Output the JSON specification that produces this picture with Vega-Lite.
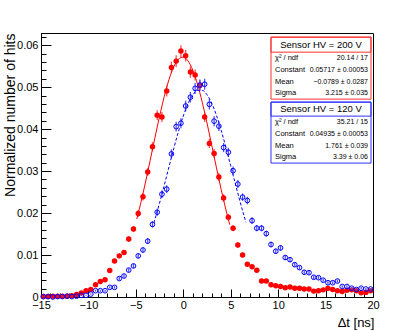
{
  "$schema": "https://vega.github.io/schema/vega-lite/v6.json",
  "width": 332,
  "height": 264,
  "autosize": {"type": "none"},
  "padding": {"left": 41, "top": 33, "right": 42, "bottom": 33},
  "background": "white",
  "config": {
    "view": {"stroke": "#000", "strokeWidth": 1},
    "font": "Liberation Sans",
    "axis": {"labelFont": "Liberation Sans", "titleFont": "Liberation Sans", "labelColor": "#000", "titleColor": "#000", "tickColor": "#000", "domainColor": "#000", "grid": false, "titleFontWeight": "normal"}
  },
  "datasets": {
    "red": [
      {"x":-14.75,"y":0.0001,"e":0.00006},{"x":-14.25,"y":0.0001,"e":0.00006},{"x":-13.75,"y":0.0002,"e":0.00008},{"x":-13.25,"y":0.0002,"e":0.00008},
      {"x":-12.75,"y":0.0002,"e":0.00008},{"x":-12.25,"y":0.0002,"e":0.00008},{"x":-11.75,"y":0.0003,"e":0.0001},{"x":-11.25,"y":0.0006,"e":0.00014},
      {"x":-10.75,"y":0.00095,"e":0.00018},{"x":-10.25,"y":0.0015,"e":0.00022},{"x":-9.75,"y":0.0018,"e":0.00025},{"x":-9.25,"y":0.0029,"e":0.00031},
      {"x":-8.75,"y":0.0037,"e":0.00035},{"x":-8.25,"y":0.0041,"e":0.00037},{"x":-7.75,"y":0.0063,"e":0.00046},{"x":-7.25,"y":0.0086,"e":0.00054},
      {"x":-6.75,"y":0.0098,"e":0.00057},{"x":-6.25,"y":0.0106,"e":0.0006},{"x":-5.75,"y":0.0138,"e":0.00068},{"x":-5.25,"y":0.0162,"e":0.00074},
      {"x":-4.75,"y":0.0199,"e":0.00082},{"x":-4.25,"y":0.0239,"e":0.0009},{"x":-3.75,"y":0.0298,"e":0.001},{"x":-3.25,"y":0.0358,"e":0.0011},
      {"x":-2.75,"y":0.0433,"e":0.0012},{"x":-2.25,"y":0.0429,"e":0.0012},{"x":-1.75,"y":0.0491,"e":0.0013},{"x":-1.25,"y":0.0547,"e":0.00136},
      {"x":-0.75,"y":0.0562,"e":0.00138},{"x":-0.25,"y":0.0586,"e":0.0014},{"x":0.25,"y":0.0575,"e":0.0014},{"x":0.75,"y":0.0536,"e":0.00134},
      {"x":1.25,"y":0.0529,"e":0.00133},{"x":1.75,"y":0.0504,"e":0.0013},{"x":2.25,"y":0.0429,"e":0.0012},{"x":2.75,"y":0.0366,"e":0.0011},
      {"x":3.25,"y":0.0342,"e":0.00107},{"x":3.75,"y":0.0286,"e":0.00098},{"x":4.25,"y":0.0236,"e":0.00089},{"x":4.75,"y":0.019,"e":0.0008},
      {"x":5.25,"y":0.0164,"e":0.00074},{"x":5.75,"y":0.0124,"e":0.00065},{"x":6.25,"y":0.01,"e":0.00058},{"x":6.75,"y":0.0078,"e":0.00051},
      {"x":7.25,"y":0.0072,"e":0.00049},{"x":7.75,"y":0.0064,"e":0.00046},{"x":8.25,"y":0.0038,"e":0.00036},{"x":8.75,"y":0.0038,"e":0.00036},
      {"x":9.25,"y":0.0029,"e":0.00031},{"x":9.75,"y":0.0027,"e":0.0003},{"x":10.25,"y":0.0025,"e":0.00029},{"x":10.75,"y":0.0022,"e":0.00027},
      {"x":11.25,"y":0.0024,"e":0.00028},{"x":11.75,"y":0.0021,"e":0.00027},{"x":12.25,"y":0.0021,"e":0.00027},{"x":12.75,"y":0.0019,"e":0.00025},
      {"x":13.25,"y":0.0019,"e":0.00025},{"x":13.75,"y":0.0014,"e":0.00022},{"x":14.25,"y":0.0015,"e":0.00022},{"x":14.75,"y":0.0017,"e":0.00024},
      {"x":15.25,"y":0.0021,"e":0.00027},{"x":15.75,"y":0.0018,"e":0.00025},{"x":16.25,"y":0.0015,"e":0.00022},{"x":16.75,"y":0.0013,"e":0.00021},
      {"x":17.25,"y":0.0016,"e":0.00023},{"x":17.75,"y":0.0017,"e":0.00024},{"x":18.25,"y":0.0015,"e":0.00022},{"x":18.75,"y":0.001,"e":0.00018},
      {"x":19.25,"y":0.0011,"e":0.00019},{"x":19.75,"y":0.0015,"e":0.00022}
    ],
    "blue": [
      {"x":-14.75,"y":0.0001,"e":0.00006},{"x":-14.25,"y":0.0001,"e":0.00006},{"x":-13.75,"y":0.0,"e":0.0},{"x":-13.25,"y":0.0001,"e":0.00006},
      {"x":-12.75,"y":0.0001,"e":0.00006},{"x":-12.25,"y":0.0002,"e":0.00008},{"x":-11.75,"y":0.0001,"e":0.00006},{"x":-11.25,"y":0.0002,"e":0.00008},
      {"x":-10.75,"y":0.0004,"e":0.00012},{"x":-10.25,"y":0.0004,"e":0.00012},{"x":-9.75,"y":0.0007,"e":0.00015},{"x":-9.25,"y":0.0015,"e":0.00022},
      {"x":-8.75,"y":0.0015,"e":0.00022},{"x":-8.25,"y":0.0015,"e":0.00022},{"x":-7.75,"y":0.0023,"e":0.00028},{"x":-7.25,"y":0.0023,"e":0.00028},
      {"x":-6.75,"y":0.0044,"e":0.00038},{"x":-6.25,"y":0.005,"e":0.00041},{"x":-5.75,"y":0.0064,"e":0.00046},{"x":-5.25,"y":0.0074,"e":0.0005},
      {"x":-4.75,"y":0.0098,"e":0.00057},{"x":-4.25,"y":0.0112,"e":0.00061},{"x":-3.75,"y":0.0133,"e":0.00067},{"x":-3.25,"y":0.0173,"e":0.00076},
      {"x":-2.75,"y":0.0202,"e":0.00082},{"x":-2.25,"y":0.0245,"e":0.00091},{"x":-1.75,"y":0.0257,"e":0.00093},{"x":-1.25,"y":0.0341,"e":0.00107},
      {"x":-0.75,"y":0.0406,"e":0.00117},{"x":-0.25,"y":0.0414,"e":0.00118},{"x":0.25,"y":0.0455,"e":0.00124},{"x":0.75,"y":0.0476,"e":0.00127},
      {"x":1.25,"y":0.0497,"e":0.00129},{"x":1.75,"y":0.0505,"e":0.0013},{"x":2.25,"y":0.0507,"e":0.0013},{"x":2.75,"y":0.0459,"e":0.00124},
      {"x":3.25,"y":0.0419,"e":0.00119},{"x":3.75,"y":0.0407,"e":0.00117},{"x":4.25,"y":0.0356,"e":0.00109},{"x":4.75,"y":0.0345,"e":0.00108},
      {"x":5.25,"y":0.0301,"e":0.001},{"x":5.75,"y":0.0269,"e":0.00095},{"x":6.25,"y":0.0238,"e":0.00089},{"x":6.75,"y":0.023,"e":0.00088},
      {"x":7.25,"y":0.0182,"e":0.00078},{"x":7.75,"y":0.0164,"e":0.00074},{"x":8.25,"y":0.0164,"e":0.00074},{"x":8.75,"y":0.0151,"e":0.00071},
      {"x":9.25,"y":0.0125,"e":0.00065},{"x":9.75,"y":0.0109,"e":0.0006},{"x":10.25,"y":0.0117,"e":0.00063},{"x":10.75,"y":0.0094,"e":0.00056},
      {"x":11.25,"y":0.0089,"e":0.00055},{"x":11.75,"y":0.0077,"e":0.00051},{"x":12.25,"y":0.007,"e":0.00049},{"x":12.75,"y":0.0059,"e":0.00045},
      {"x":13.25,"y":0.0058,"e":0.00044},{"x":13.75,"y":0.0047,"e":0.0004},{"x":14.25,"y":0.0046,"e":0.00039},{"x":14.75,"y":0.004,"e":0.00037},
      {"x":15.25,"y":0.0034,"e":0.00034},{"x":15.75,"y":0.0034,"e":0.00034},{"x":16.25,"y":0.0038,"e":0.00036},{"x":16.75,"y":0.0025,"e":0.00029},
      {"x":17.25,"y":0.0025,"e":0.00029},{"x":17.75,"y":0.0021,"e":0.00027},{"x":18.25,"y":0.0018,"e":0.00025},{"x":18.75,"y":0.0021,"e":0.00027},
      {"x":19.25,"y":0.0019,"e":0.00025},{"x":19.75,"y":0.0019,"e":0.00025}
    ],
    "redfit": [
      {"x":-4.9,"y":0.01857},{"x":-4.5,"y":0.02221},{"x":-4,"y":0.02717},{"x":-3.5,"y":0.03246},{"x":-3,"y":0.03784},{"x":-2.5,"y":0.04305},
      {"x":-2,"y":0.04782},{"x":-1.5,"y":0.05185},{"x":-1,"y":0.05487},{"x":-0.5,"y":0.05668},{"x":0,"y":0.05715},{"x":0.5,"y":0.05625},
      {"x":1,"y":0.05404},{"x":1.5,"y":0.05068},{"x":2,"y":0.04638},{"x":2.5,"y":0.04144},{"x":3,"y":0.03614},{"x":3.5,"y":0.03076},
      {"x":4,"y":0.02556},{"x":4.5,"y":0.02073},{"x":4.9,"y":0.01723}
    ],
    "bluefit": [
      {"x":-3.1,"y":0.01765},{"x":-2.5,"y":0.0224},{"x":-2,"y":0.02667},{"x":-1.5,"y":0.03107},{"x":-1,"y":0.03542},{"x":-0.5,"y":0.0395},
      {"x":0,"y":0.04312},{"x":0.5,"y":0.04605},{"x":1,"y":0.04812},{"x":1.5,"y":0.0492},{"x":2,"y":0.04923},{"x":2.5,"y":0.04819},
      {"x":3,"y":0.04616},{"x":3.5,"y":0.04326},{"x":4,"y":0.03968},{"x":4.5,"y":0.03561},{"x":5,"y":0.03126},{"x":5.5,"y":0.02686},
      {"x":6,"y":0.02258},{"x":6.6,"y":0.01781}
    ],
    "box": [
      {"x1":9.246,"x2":19.79,"y1":0.061905,"y2":0.047143,"s":"200"},
      {"x1":9.246,"x2":19.79,"y1":0.046429,"y2":0.031905,"s":"120"}
    ],
    "hbox": [
      {"x1":9.246,"x2":19.79,"y1":0.061905,"y2":0.058333,"s":"200"},
      {"x1":9.246,"x2":19.79,"y1":0.046429,"y2":0.043095,"s":"120"}
    ],
    "hdr": [
      {"x":14.52,"y":0.060119,"t":"Sensor HV = 200 V"},
      {"x":14.52,"y":0.044762,"t":"Sensor HV = 120 V"}
    ],
    "lab": [
      {"x":9.668,"y":0.056905,"t":"χ² / ndf"},{"x":9.668,"y":0.054119,"t":"Constant"},{"x":9.668,"y":0.051333,"t":"Mean"},{"x":9.668,"y":0.048548,"t":"Sigma"},
      {"x":9.668,"y":0.041690,"t":"χ² / ndf"},{"x":9.668,"y":0.038905,"t":"Constant"},{"x":9.668,"y":0.036095,"t":"Mean"},{"x":9.668,"y":0.033310,"t":"Sigma"}
    ],
    "val": [
      {"x":19.47,"y":0.056905,"t":"20.14 / 17"},{"x":19.47,"y":0.054119,"t":"0.05717 ± 0.00053"},{"x":19.47,"y":0.051333,"t":"−0.0789 ± 0.0287"},{"x":19.47,"y":0.048548,"t":"3.215 ± 0.035"},
      {"x":19.47,"y":0.041690,"t":"35.21 / 15"},{"x":19.47,"y":0.038905,"t":"0.04935 ± 0.00053"},{"x":19.47,"y":0.036095,"t":"1.761 ± 0.039"},{"x":19.47,"y":0.033310,"t":"3.39 ± 0.06"}
    ]
  },
  "resolve": {"axis": {"x": "independent", "y": "independent"}},
  "layer": [
    {
      "data": {"name": "red"},
      "mark": {"type": "errorbar", "color": "#ff5050", "thickness": 1.3},
      "encoding": {
        "x": {"field": "x", "type": "quantitative", "scale": {"domain": [-15, 20], "nice": false, "zero": false}, "axis": null},
        "y": {"field": "y", "type": "quantitative", "scale": {"domain": [0, 0.0629], "nice": false}, "axis": null},
        "yError": {"field": "e"}
      }
    },
    {
      "data": {"name": "redfit"},
      "mark": {"type": "line", "color": "#ff0000", "strokeWidth": 1, "interpolate": "monotone"},
      "encoding": {
        "x": {"field": "x", "type": "quantitative", "axis": null},
        "y": {"field": "y", "type": "quantitative", "axis": null}
      }
    },
    {
      "data": {"name": "red"},
      "mark": {"type": "point", "shape": "circle", "filled": true, "color": "#ff0000", "opacity": 1, "size": 30},
      "encoding": {
        "x": {"field": "x", "type": "quantitative", "axis": {
          "orient": "bottom", "values": [-15, -10, -5, 0, 5, 10, 15, 20], "tickSize": -8, "tickWidth": 1,
          "labelFontSize": 11, "labelPadding": 10, "labelFlush": false, "labelOverlap": false,
          "title": "Δt [ns]", "titleFontSize": 13, "titleX": 333, "titleY": 29, "titleAlign": "right", "titleBaseline": "alphabetic"}},
        "y": {"field": "y", "type": "quantitative", "axis": {
          "orient": "left", "values": [0, 0.01, 0.02, 0.03, 0.04, 0.05, 0.06], "tickSize": -10, "tickWidth": 1,
          "labelExpr": "datum.value == 0 ? '0' : format(datum.value, '.2f')",
          "labelFontSize": 11, "labelPadding": 13, "labelFlush": false, "labelOverlap": false,
          "title": "Normalized number of hits", "titleFontSize": 14, "titleX": -27, "titleY": 0, "titleAlign": "right", "titleBaseline": "alphabetic", "titleAngle": -90}}
      }
    },
    {
      "data": {"name": "blue"},
      "mark": {"type": "errorbar", "color": "#5050ff", "thickness": 1.3},
      "encoding": {
        "x": {"field": "x", "type": "quantitative", "axis": null},
        "y": {"field": "y", "type": "quantitative", "axis": null},
        "yError": {"field": "e"}
      }
    },
    {
      "data": {"name": "bluefit"},
      "mark": {"type": "line", "color": "#0000ff", "strokeWidth": 1, "strokeDash": [3, 2], "interpolate": "monotone"},
      "encoding": {
        "x": {"field": "x", "type": "quantitative", "axis": null},
        "y": {"field": "y", "type": "quantitative", "axis": null}
      }
    },
    {
      "data": {"name": "blue"},
      "mark": {"type": "point", "shape": "circle", "filled": false, "color": "#0000ff", "opacity": 1, "size": 22, "strokeWidth": 1},
      "encoding": {
        "x": {"field": "x", "type": "quantitative", "axis": {
          "orient": "bottom", "values": [-14,-13,-12,-11,-9,-8,-7,-6,-4,-3,-2,-1,1,2,3,4,6,7,8,9,11,12,13,14,16,17,18,19],
          "tickSize": -4, "tickWidth": 1, "labels": false, "domain": false, "title": null}},
        "y": {"field": "y", "type": "quantitative", "axis": {
          "orient": "left", "values": [0.002,0.004,0.006,0.008,0.012,0.014,0.016,0.018,0.022,0.024,0.026,0.028,0.032,0.034,0.036,0.038,0.042,0.044,0.046,0.048,0.052,0.054,0.056,0.058,0.062],
          "tickSize": -5, "tickWidth": 1, "labels": false, "domain": false, "title": null}}
      }
    },
    {
      "data": {"name": "box"},
      "mark": {"type": "rect", "fill": "white", "strokeWidth": 1},
      "encoding": {
        "x": {"field": "x1", "type": "quantitative", "axis": null},
        "x2": {"field": "x2"},
        "y": {"field": "y1", "type": "quantitative", "axis": null},
        "y2": {"field": "y2"},
        "stroke": {"field": "s", "type": "nominal", "scale": {"domain": ["200", "120"], "range": ["#ff3030", "#3030ff"]}, "legend": null}
      }
    },
    {
      "data": {"name": "hbox"},
      "mark": {"type": "rect", "fill": null, "fillOpacity": 0, "strokeWidth": 1},
      "encoding": {
        "x": {"field": "x1", "type": "quantitative", "axis": null},
        "x2": {"field": "x2"},
        "y": {"field": "y1", "type": "quantitative", "axis": null},
        "y2": {"field": "y2"},
        "stroke": {"field": "s", "type": "nominal", "scale": {"domain": ["200", "120"], "range": ["#ff3030", "#3030ff"]}, "legend": null}
      }
    },
    {
      "data": {"name": "hdr"},
      "mark": {"type": "text", "align": "center", "baseline": "middle", "fontSize": 9.5, "color": "#000", "font": "Liberation Sans"},
      "encoding": {
        "x": {"field": "x", "type": "quantitative", "axis": null},
        "y": {"field": "y", "type": "quantitative", "axis": null},
        "text": {"field": "t"}
      }
    },
    {
      "data": {"name": "lab"},
      "mark": {"type": "text", "align": "left", "baseline": "middle", "fontSize": 7.5, "color": "#000", "font": "Liberation Sans"},
      "encoding": {
        "x": {"field": "x", "type": "quantitative", "axis": null},
        "y": {"field": "y", "type": "quantitative", "axis": null},
        "text": {"field": "t"}
      }
    },
    {
      "data": {"name": "val"},
      "mark": {"type": "text", "align": "right", "baseline": "middle", "fontSize": 7, "color": "#000", "font": "Liberation Sans"},
      "encoding": {
        "x": {"field": "x", "type": "quantitative", "axis": null},
        "y": {"field": "y", "type": "quantitative", "axis": null},
        "text": {"field": "t"}
      }
    }
  ]
}
